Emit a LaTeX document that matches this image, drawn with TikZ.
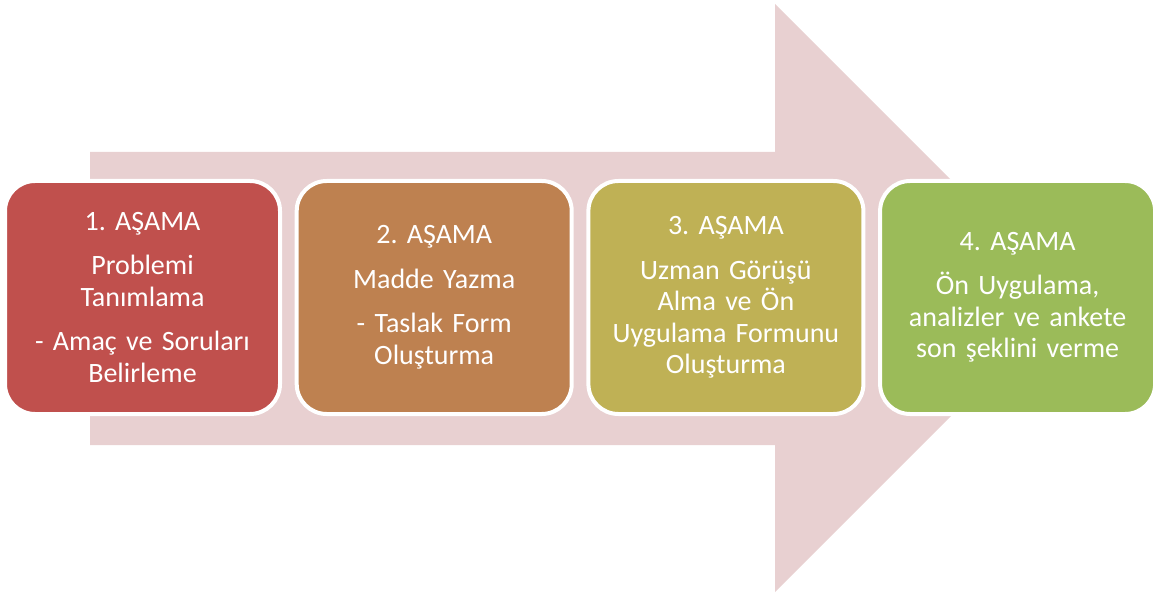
\documentclass[tikz,border=0pt]{standalone}
\usepackage{fontspec}
\setmainfont{Carlito}
\usepackage{tikz}

\definecolor{arrowpink}{HTML}{E8D0D1}
\definecolor{stepred}{HTML}{C0504D}
\definecolor{stepbrown}{HTML}{BE8150}
\definecolor{stepolive}{HTML}{BFB155}
\definecolor{stepgreen}{HTML}{9BBB59}

\begin{document}
\begin{tikzpicture}[
                    x=1pt,
                    y=1pt,
                    node distance=291.7pt,
                    stage/.style={
                        draw=white,
                        line width=4pt,
                        rounded corners=30pt,
                        minimum width=275pt,
                        minimum height=233pt,
                        text width=262pt,
                        align=center,
                        text=white,
                        font=\fontsize{28}{31.5}\selectfont\frenchspacing
                    }
                ]
                \useasboundingbox (0,0) rectangle (1155,595);
                \fill[arrowpink] (90,443) -- (775,443) -- (775,591) -- (1069,297)
                    -- (775,3) -- (775,150) -- (90,150) -- cycle;

                \node (S1) [stage, fill=stepred] at (142.5,297.5)
                    {1. AŞAMA\\[13pt] Problemi\\ Tanımlama\\[13pt] - Amaç ve Soruları\\ Belirleme};
                \node (S2) [stage, fill=stepbrown, right of=S1]
                    {2. AŞAMA\\[13pt] Madde Yazma\\[13pt] - Taslak Form\\ Oluşturma};
                \node (S3) [stage, fill=stepolive, right of=S2]
                    {3. AŞAMA\\[13pt] Uzman Görüşü\\ Alma ve Ön\\ Uygulama Formunu\\ Oluşturma};
                \node (S4) [stage, fill=stepgreen, right of=S3]
                    {4. AŞAMA\\[13pt] Ön Uygulama,\\ analizler ve ankete\\ son şeklini verme};
            \end{tikzpicture}
\end{document}
